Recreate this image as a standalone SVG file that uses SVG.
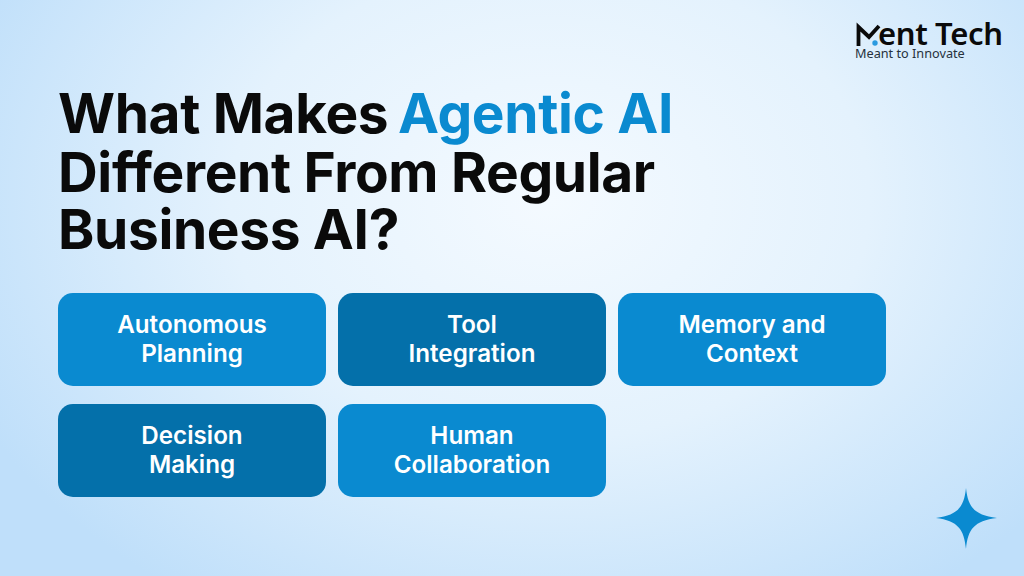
<svg xmlns="http://www.w3.org/2000/svg" width="1024" height="576" viewBox="0 0 1024 576">
<style>
text{font-family:Inter,"Liberation Sans",sans-serif}
.t{font-size:55px;font-weight:700;fill:#0a0a0a;letter-spacing:-.35px}
.l{font-size:24.2px;font-weight:600;fill:#fff;text-anchor:middle}
.a{fill:#0a8ad0}.b{fill:#0470aa}
</style>
<defs>
<radialGradient id="bg" gradientUnits="userSpaceOnUse" cx="0" cy="0" r="1" gradientTransform="translate(550 200) scale(640 480)">
<stop offset="0" stop-color="#f4faff"/><stop offset=".5" stop-color="#e4f2fd"/><stop offset="1" stop-color="#bfdffa"/>
</radialGradient>
</defs>
<rect width="1024" height="576" fill="url(#bg)"/>
<g id="title" class="t">
<text x="58" y="133">What Makes</text>
<text x="398" y="133" style="fill:#0a8ad0">Agentic AI</text>
<text x="58" y="192">Different From Regular</text>
<text x="58" y="249">Business AI?</text>
</g>
<g id="logo">
<path d="M858.500 46V27L869 37L879 26" fill="none" stroke="#0a0a0a" stroke-width="3.800"/>
<circle cx="875" cy="43" r="2.700" fill="#2a9ae0"/>
<text x="878" y="45" font-size="31" font-weight="600" fill="#0a0a0a" textLength="125" style="font-family:'Noto Sans',sans-serif">ent Tech</text>
<text x="855" y="58" font-size="12.700" fill="#26323c" style="font-family:'Noto Sans',sans-serif">Meant to Innovate</text>
</g>
<g id="node-autonomous-planning"><rect class="a" x="58" y="293" width="268" height="93" rx="15"/><text class="l" x="192" y="333">Autonomous</text><text class="l" x="192" y="362">Planning</text></g>
<g id="node-tool-integration"><rect class="b" x="338" y="293" width="268" height="93" rx="15"/><text class="l" x="472" y="333">Tool</text><text class="l" x="472" y="362">Integration</text></g>
<g id="node-memory-context"><rect class="a" x="618" y="293" width="268" height="93" rx="15"/><text class="l" x="752" y="333">Memory and</text><text class="l" x="752" y="362">Context</text></g>
<g id="node-decision-making"><rect class="b" x="58" y="404" width="268" height="93" rx="15"/><text class="l" x="192" y="444">Decision</text><text class="l" x="192" y="473">Making</text></g>
<g id="node-human-collaboration"><rect class="a" x="338" y="404" width="268" height="93" rx="15"/><text class="l" x="472" y="444">Human</text><text class="l" x="472" y="473">Collaboration</text></g>
<g id="connectors"></g>
<path id="star" class="a" d="M966 488C968 507 974 515 997 518C974 521 968 529 966 549C964 529 958 521 936 518C958 515 964 507 966 488Z"/>
</svg>
